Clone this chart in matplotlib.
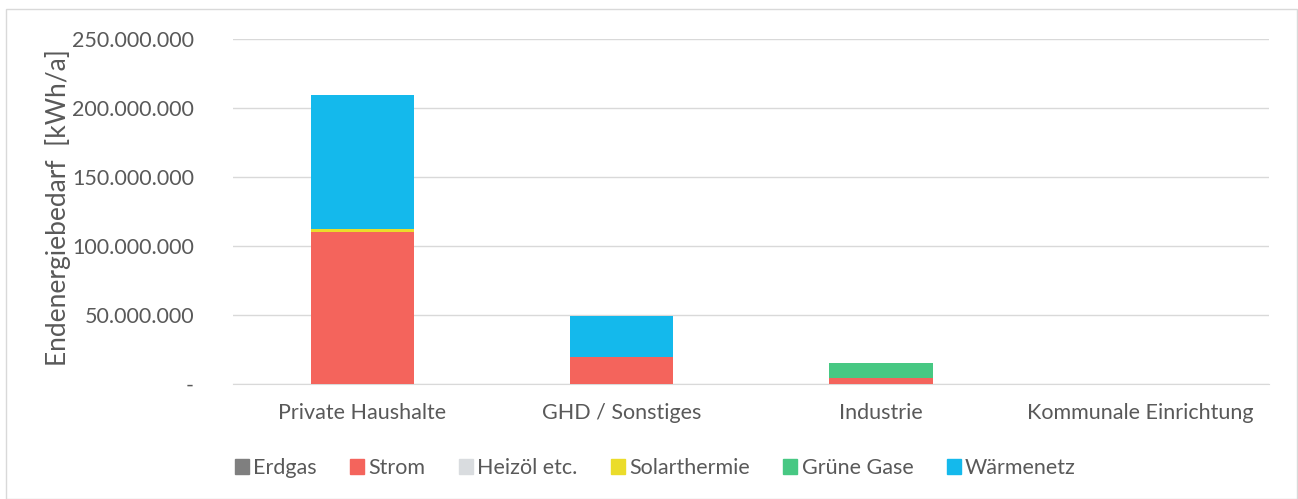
import matplotlib.pyplot as plt
import matplotlib.patches as mpatches
import numpy as np

plt.rcParams['font.family'] = ['Lato', 'DejaVu Sans']

# Endenergiebedarf je Sektor und Energieträger [kWh/a]
sektoren = ['Private Haushalte', 'GHD / Sonstiges', 'Industrie', 'Kommunale Einrichtung']
traeger = ['Erdgas', 'Strom', 'Heizöl etc.', 'Solarthermie', 'Grüne Gase', 'Wärmenetz']
erdgas = [0, 0, 0, 0]
strom = [110_500_000, 19_800_000, 4_400_000, 0]
heizoel = [0, 0, 0, 0]
solarthermie = [1_500_000, 0, 0, 0]
gruene_gase = [0, 0, 10_900_000, 0]
waermenetz = [97_300_000, 29_600_000, 150_000, 0]

farben = ['#7f7f7f', '#f4645c', '#d9dcdf', '#ebdc2a', '#47c883', '#14b9ec']
werte = [erdgas, strom, heizoel, solarthermie, gruene_gase, waermenetz]

fig = plt.figure(figsize=(12.98, 4.99), dpi=100)
ax = fig.add_axes([0.1795, 0.2305, 0.7985, 0.6913])

x = np.arange(len(sektoren))
unten = np.zeros(len(sektoren))
for name, farbe, reihe in zip(traeger, farben, werte):
    ax.bar(x, reihe, 0.4, bottom=unten, color=farbe, label=name, zorder=3)
    unten += np.array(reihe)

ax.set_xlim(-0.5, len(sektoren) - 0.5)
ax.set_ylim(0, 250_000_000)
ax.set_yticks(np.arange(0, 250_000_001, 50_000_000))


def tausender(v, pos=None):
    if v == 0:
        return '-'
    return f'{int(v):,}'.replace(',', '.')


ax.yaxis.set_major_formatter(plt.FuncFormatter(tausender))
ax.set_xticks(x)
ax.set_xticklabels(sektoren)
ax.tick_params(axis='both', length=0, labelsize=15.5, colors='#595959', pad=14)
ax.tick_params(axis='y', pad=28)
ax.grid(axis='y', color='#d9d9d9', linewidth=1, zorder=0)
for s in ['top', 'right', 'left']:
    ax.spines[s].set_visible(False)
ax.spines['bottom'].set_color('#d9d9d9')

fig.text(0.045, 0.585, 'Endenergiebedarf  [kWh/a]', rotation=90, fontsize=19,
         color='#595959', ha='center', va='center')

griffe = [mpatches.Patch(color=f, label=t) for t, f in zip(traeger, farben)]
fig.legend(handles=griffe, loc='center', bbox_to_anchor=(0.505, 0.062), ncol=6,
           frameon=False, fontsize=15.5, labelcolor='#595959', handlelength=0.65,
           handleheight=0.65, handletextpad=0.2, columnspacing=1.55)

# Rahmen um das Diagramm
fig.patches.append(mpatches.Rectangle((0.005, 0.0), 0.994, 0.982, transform=fig.transFigure,
                                      fill=False, edgecolor='#d9d9d9', linewidth=1))

fig.savefig('out.png', dpi=100)
